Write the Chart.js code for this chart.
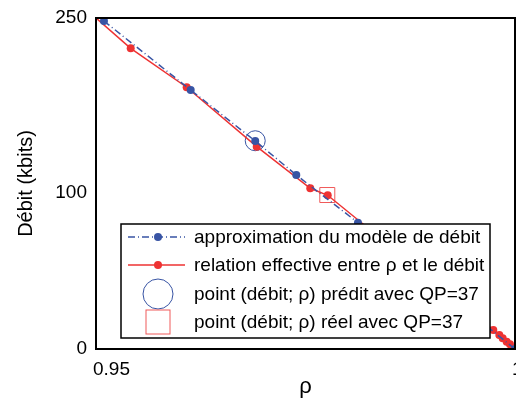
<!DOCTYPE html>
<html>
<head>
<meta charset="utf-8">
<script src="https://cdn.jsdelivr.net/npm/chart.js@4"></script>
<style>
  html, body { margin: 0; padding: 0; background: #fff; }
  #wrap { width: 516px; height: 400px; }
</style>
</head>
<body>
<div id="wrap"><canvas id="chart" width="516" height="400"></canvas></div>
<script>
// values
const rhoModel = [0.95095, 0.9613, 0.9690, 0.9739, 0.98126, 1.0];
const debitModel = [247.7, 195.6, 157.1, 131.4, 95.4, 0];

const rhoReal = [0.95, 0.95414, 0.96082, 0.96918, 0.97557, 0.97765, 0.99741, 0.99813, 0.99853, 0.99901, 0.9994];
const debitReal = [250, 227.1, 197.7, 152.8, 121.4, 116.1, 14.4, 10.6, 8.1, 5.5, 3.5];

const predicted = { rho: 0.9690, debit: 157.3 };
const actual = { rho: 0.9776, debit: 116.3 };

const seriesLabels = [
  'approximation du modèle de débit',
  'relation effective entre ρ et le débit',
  'point (débit; ρ) prédit avec QP=37',
  'point (débit; ρ) réel avec QP=37'
];

const xTickValues = [0.95, 1];
const xTickLabels = ['0.95', '1'];
const yTickValues = [0, 118, 250];
const yTickLabels = ['0', '100', '250'];

const BLUE = 'rgb(56,84,164)';
const RED = 'rgb(238,50,50)';
const FONT = "'Liberation Sans', Arial, sans-serif";

function toPoints(xs, ys) {
  return xs.map((x, i) => ({ x: x, y: ys[i] }));
}

// frame around the plot + legend box drawn inside the plot
const framePlugin = {
  id: 'frame',
  afterDatasetsDraw(chart) {
    const { ctx, chartArea: a } = chart;
    ctx.save();
    ctx.strokeStyle = '#000';
    ctx.lineWidth = 2;
    ctx.strokeRect(a.left, a.top, a.right - a.left, a.bottom - a.top);

    // legend
    const box = { x: 121, y: 224, w: 369, h: 114 };
    ctx.fillStyle = '#fff';
    ctx.fillRect(box.x, box.y, box.w, box.h);
    ctx.lineWidth = 1.5;
    ctx.strokeRect(box.x, box.y, box.w, box.h);

    const rows = [237, 265, 294, 322];
    const sx0 = 128, sx1 = 185, sc = 158;
    const ds = chart.data.datasets;

    // row 1: dash-dot blue line with dot
    ctx.strokeStyle = BLUE;
    ctx.lineWidth = 1.5;
    ctx.setLineDash([7, 3, 1, 3]);
    ctx.beginPath(); ctx.moveTo(sx0, rows[0]); ctx.lineTo(sx1, rows[0]); ctx.stroke();
    ctx.setLineDash([]);
    ctx.fillStyle = BLUE;
    ctx.beginPath(); ctx.arc(sc, rows[0], 4, 0, Math.PI * 2); ctx.fill();

    // row 2: red line with dot
    ctx.strokeStyle = RED;
    ctx.beginPath(); ctx.moveTo(sx0, rows[1]); ctx.lineTo(sx1, rows[1]); ctx.stroke();
    ctx.fillStyle = RED;
    ctx.beginPath(); ctx.arc(sc, rows[1], 4, 0, Math.PI * 2); ctx.fill();

    // row 3: circle
    ctx.strokeStyle = BLUE;
    ctx.lineWidth = 1;
    ctx.beginPath(); ctx.arc(sc, rows[2], 15, 0, Math.PI * 2); ctx.stroke();

    // row 4: square
    ctx.strokeStyle = 'rgb(240,90,90)';
    ctx.strokeRect(sc - 12, rows[3] - 12, 24, 24);

    ctx.fillStyle = '#000';
    ctx.font = '19px ' + FONT;
    ctx.textBaseline = 'middle';
    ctx.textAlign = 'left';
    ds.forEach((d, i) => ctx.fillText(d.label, 194, rows[i] + 1));
    ctx.restore();
  }
};

new Chart(document.getElementById('chart'), {
  type: 'scatter',
  data: {
    datasets: [
      {
        label: seriesLabels[0],
        data: toPoints(rhoModel, debitModel),
        showLine: true,
        borderColor: BLUE,
        backgroundColor: BLUE,
        borderWidth: 1.5,
        borderDash: [7, 3, 1, 3],
        pointRadius: 4,
        pointBorderWidth: 0
      },
      {
        label: seriesLabels[1],
        data: toPoints(rhoReal, debitReal),
        showLine: true,
        borderColor: RED,
        backgroundColor: RED,
        borderWidth: 1.5,
        pointRadius: c => (c.dataIndex === 0 ? 0 : 4),
        pointBorderWidth: 0
      },
      {
        label: seriesLabels[2],
        data: [{ x: predicted.rho, y: predicted.debit }],
        pointStyle: 'circle',
        pointRadius: 10,
        borderColor: BLUE,
        borderWidth: 1,
        backgroundColor: 'rgba(0,0,0,0)'
      },
      {
        label: seriesLabels[3],
        data: [{ x: actual.rho, y: actual.debit }],
        pointStyle: 'rect',
        pointRadius: 10.6,
        borderColor: 'rgb(240,90,90)',
        borderWidth: 1,
        backgroundColor: 'rgba(0,0,0,0)'
      }
    ]
  },
  options: {
    responsive: false,
    animation: false,
    layout: { autoPadding: false, padding: { top: 18, right: 1, left: 0, bottom: 0 } },
    plugins: {
      legend: { display: false },
      tooltip: { enabled: false }
    },
    scales: {
      x: {
        type: 'linear',
        min: 0.95,
        max: 1,
        grid: { display: false, drawTicks: false },
        border: { display: false },
        afterBuildTicks: s => { s.ticks = xTickValues.map(v => ({ value: v })); },
        afterFit: s => { s.height = 51; s.paddingLeft = 0; s.paddingRight = 0; },
        ticks: {
          align: 'start',
          labelOffset: -3,
          padding: 9,
          color: '#000',
          font: { family: FONT, size: 19 },
          callback: (v, i) => xTickLabels[i]
        },
        title: {
          display: true,
          text: 'ρ',
          color: '#000',
          font: { family: FONT, size: 22 },
          padding: { top: 0, bottom: 0 }
        }
      },
      y: {
        type: 'linear',
        min: 0,
        max: 250,
        grid: { display: false, drawTicks: false },
        border: { display: false },
        afterBuildTicks: s => { s.ticks = yTickValues.map(v => ({ value: v })); },
        afterFit: s => { s.width = 96; s.paddingTop = 0; s.paddingBottom = 0; },
        ticks: {
          padding: 9,
          color: '#000',
          font: { family: FONT, size: 19 },
          callback: (v, i) => yTickLabels[i]
        },
        title: {
          display: true,
          text: 'Débit (kbits)',
          color: '#000',
          font: { family: FONT, size: 20 },
          padding: { top: 14, bottom: 0 }
        }
      }
    }
  },
  plugins: [framePlugin]
});
</script>
</body>
</html>
